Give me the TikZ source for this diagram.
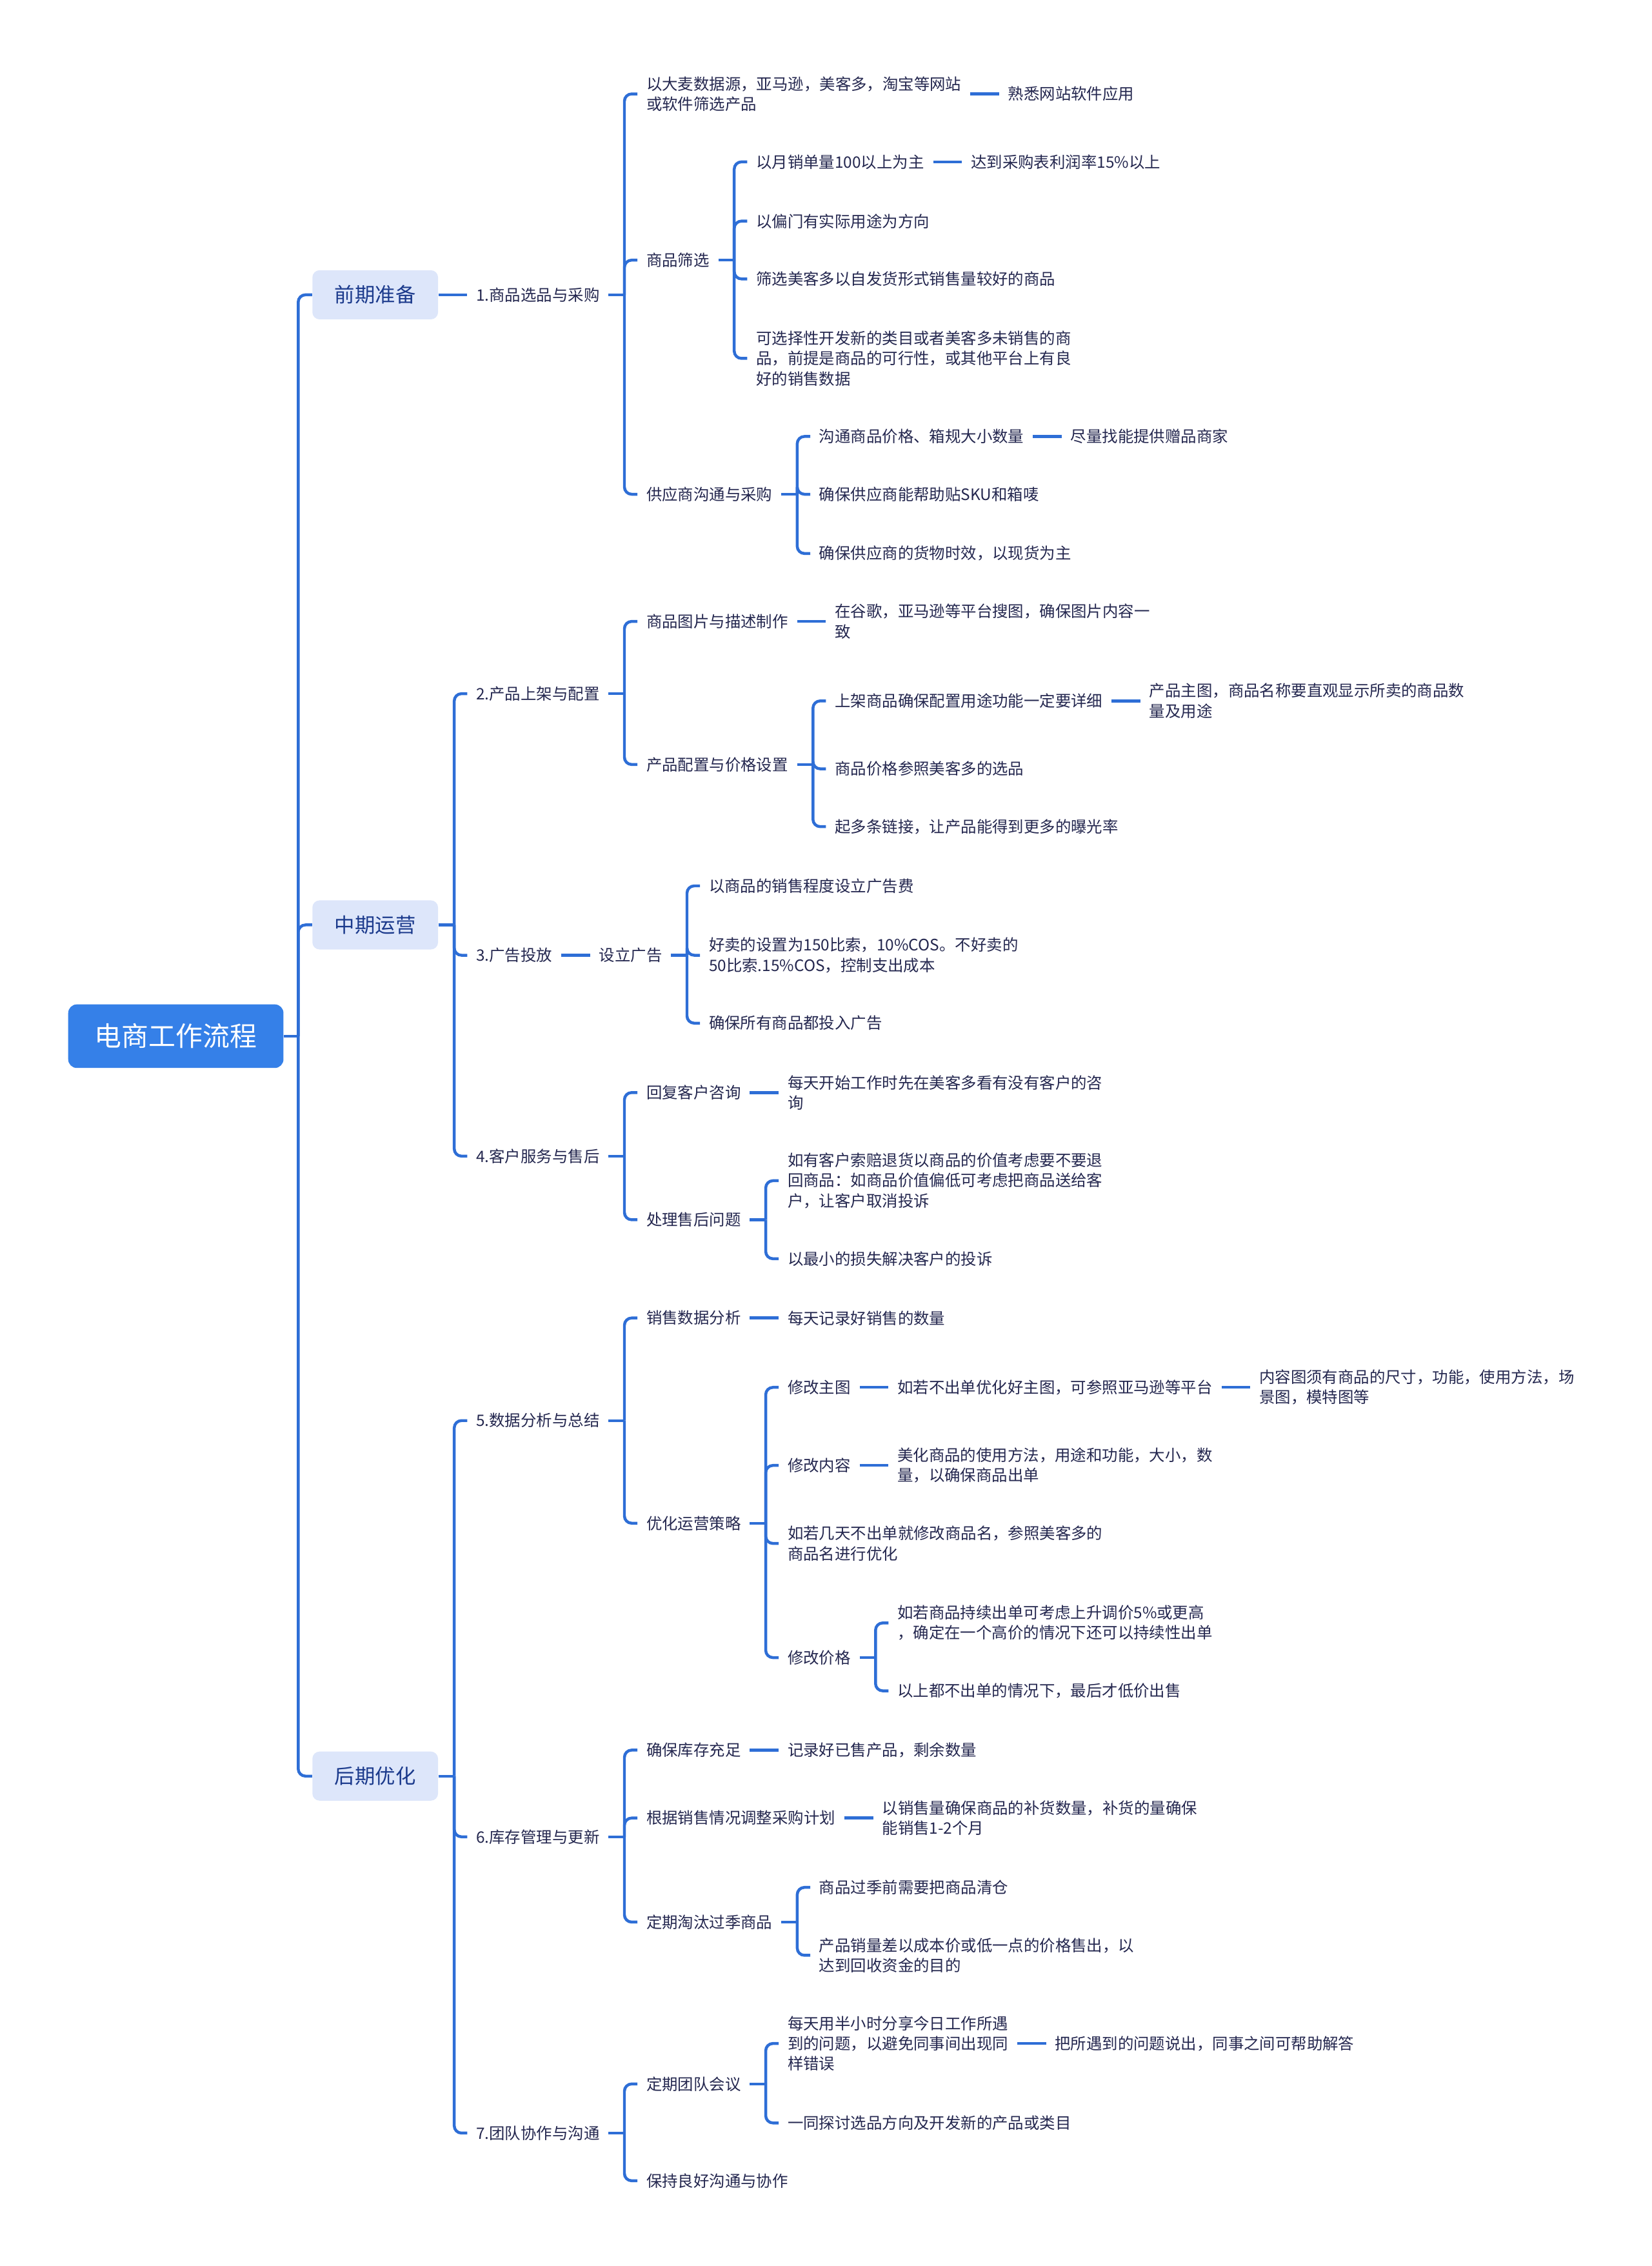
\documentclass[tikz,border=0pt]{standalone}
\usepackage{fontspec}
\setmainfont{Noto Sans CJK SC}
\usepackage{xcolor}
\usepackage{tikz}
\usetikzlibrary{positioning}

\definecolor{rootblue}{HTML}{3580E8}
\definecolor{topicfill}{HTML}{DDE6FA}
\definecolor{topicink}{HTML}{1B3A8C}
\definecolor{leafink}{HTML}{24274F}
\definecolor{lineblue}{HTML}{2E6ED6}

\begin{document}
\begin{tikzpicture}[
  x=1pt, y=-1pt,
  node distance=20pt,
  root/.style={fill=rootblue, text=white, rounded corners=6pt, minimum width=149pt, minimum height=44pt, anchor=west, font=\fontsize{18.7pt}{22pt}\selectfont},
  topic/.style={fill=topicfill, text=topicink, rounded corners=5pt, minimum width=87pt, minimum height=34pt, anchor=west, font=\fontsize{14pt}{17pt}\selectfont},
  leaf/.style={text=leafink, align=left, anchor=west, inner xsep=6pt, inner ysep=2pt, font=\fontsize{10.9pt}{14pt}\selectfont},
  link/.style={draw=lineblue, line width=2pt, rounded corners=5pt}
]
\useasboundingbox (0,0) rectangle (1143,1568);

\node[root] (root) at (47,717) {电商工作流程};
\node[topic] (t1) at (216,204) {前期准备};
\node[topic] (t2) at (216,640) {中期运营};
\node[topic] (t3) at (216,1229) {后期优化};

\node[leaf, right=of t1] (s1) {1.商品选品与采购};
\node[leaf] (s2) at ([xshift=20pt]t2.east |- 0,480) {2.产品上架与配置};
\node[leaf] (s3) at ([xshift=20pt]t2.east |- 0,661) {3.广告投放};
\node[leaf] (s4) at ([xshift=20pt]t2.east |- 0,800) {4.客户服务与售后};
\node[leaf] (s5) at ([xshift=20pt]t3.east |- 0,983) {5.数据分析与总结};
\node[leaf] (s6) at ([xshift=20pt]t3.east |- 0,1271) {6.库存管理与更新};
\node[leaf] (s7) at ([xshift=20pt]t3.east |- 0,1476) {7.团队协作与沟通};

% 1.商品选品与采购
\node[leaf] (a1) at ([xshift=20pt]s1.east |- 0,65) {以大麦数据源，亚马逊，美客多，淘宝等网站\\或软件筛选产品};
\node[leaf, right=of a1] (a1x) {熟悉网站软件应用};
\node[leaf] (a2) at ([xshift=20pt]s1.east |- 0,180) {商品筛选};
\node[leaf] (a21) at ([xshift=20pt]a2.east |- 0,112) {以月销单量100以上为主};
\node[leaf, right=of a21] (a21x) {达到采购表利润率15\%以上};
\node[leaf] (a22) at ([xshift=20pt]a2.east |- 0,153) {以偏门有实际用途为方向};
\node[leaf] (a23) at ([xshift=20pt]a2.east |- 0,193) {筛选美客多以自发货形式销售量较好的商品};
\node[leaf] (a24) at ([xshift=20pt]a2.east |- 0,248) {可选择性开发新的类目或者美客多未销售的商\\品，前提是商品的可行性，或其他平台上有良\\好的销售数据};
\node[leaf] (a3) at ([xshift=20pt]s1.east |- 0,342) {供应商沟通与采购};
\node[leaf] (a31) at ([xshift=20pt]a3.east |- 0,302) {沟通商品价格、箱规大小数量};
\node[leaf, right=of a31] (a31x) {尽量找能提供赠品商家};
\node[leaf] (a32) at ([xshift=20pt]a3.east |- 0,342) {确保供应商能帮助贴SKU和箱唛};
\node[leaf] (a33) at ([xshift=20pt]a3.east |- 0,383) {确保供应商的货物时效，以现货为主};

% 2.产品上架与配置
\node[leaf] (b1) at ([xshift=20pt]s2.east |- 0,430) {商品图片与描述制作};
\node[leaf, right=of b1] (b1x) {在谷歌，亚马逊等平台搜图，确保图片内容一\\致};
\node[leaf] (b2) at ([xshift=20pt]s2.east |- 0,529) {产品配置与价格设置};
\node[leaf] (b21) at ([xshift=20pt]b2.east |- 0,485) {上架商品确保配置用途功能一定要详细};
\node[leaf, right=of b21] (b21x) {产品主图，商品名称要直观显示所卖的商品数\\量及用途};
\node[leaf] (b22) at ([xshift=20pt]b2.east |- 0,532) {商品价格参照美客多的选品};
\node[leaf] (b23) at ([xshift=20pt]b2.east |- 0,572) {起多条链接，让产品能得到更多的曝光率};

% 3.广告投放
\node[leaf, right=of s3] (c1) {设立广告};
\node[leaf] (c11) at ([xshift=20pt]c1.east |- 0,613) {以商品的销售程度设立广告费};
\node[leaf] (c12) at ([xshift=20pt]c1.east |- 0,661) {好卖的设置为150比索，10\%COS。不好卖的\\50比索.15\%COS，控制支出成本};
\node[leaf] (c13) at ([xshift=20pt]c1.east |- 0,708) {确保所有商品都投入广告};

% 4.客户服务与售后
\node[leaf] (d1) at ([xshift=20pt]s4.east |- 0,756) {回复客户咨询};
\node[leaf, right=of d1] (d1x) {每天开始工作时先在美客多看有没有客户的咨\\询};
\node[leaf] (d2) at ([xshift=20pt]s4.east |- 0,844) {处理售后问题};
\node[leaf] (d21) at ([xshift=20pt]d2.east |- 0,817) {如有客户索赔退货以商品的价值考虑要不要退\\回商品：如商品价值偏低可考虑把商品送给客\\户，让客户取消投诉};
\node[leaf] (d22) at ([xshift=20pt]d2.east |- 0,871) {以最小的损失解决客户的投诉};

% 5.数据分析与总结
\node[leaf] (e1) at ([xshift=20pt]s5.east |- 0,912) {销售数据分析};
\node[leaf, right=of e1] (e1x) {每天记录好销售的数量};
\node[leaf] (e2) at ([xshift=20pt]s5.east |- 0,1054) {优化运营策略};
\node[leaf] (e21) at ([xshift=20pt]e2.east |- 0,960) {修改主图};
\node[leaf, right=of e21] (e21x) {如若不出单优化好主图，可参照亚马逊等平台};
\node[leaf, right=of e21x] (e21y) {内容图须有商品的尺寸，功能，使用方法，场\\景图，模特图等};
\node[leaf] (e22) at ([xshift=20pt]e2.east |- 0,1014) {修改内容};
\node[leaf, right=of e22] (e22x) {美化商品的使用方法，用途和功能，大小，数\\量，以确保商品出单};
\node[leaf] (e23) at ([xshift=20pt]e2.east |- 0,1068) {如若几天不出单就修改商品名，参照美客多的\\商品名进行优化};
\node[leaf] (e24) at ([xshift=20pt]e2.east |- 0,1147) {修改价格};
\node[leaf] (e241) at ([xshift=20pt]e24.east |- 0,1123) {如若商品持续出单可考虑上升调价5\%或更高\\，确定在一个高价的情况下还可以持续性出单};
\node[leaf] (e242) at ([xshift=20pt]e24.east |- 0,1170) {以上都不出单的情况下，最后才低价出售};

% 6.库存管理与更新
\node[leaf] (f1) at ([xshift=20pt]s6.east |- 0,1211) {确保库存充足};
\node[leaf, right=of f1] (f1x) {记录好已售产品，剩余数量};
\node[leaf] (f2) at ([xshift=20pt]s6.east |- 0,1258) {根据销售情况调整采购计划};
\node[leaf, right=of f2] (f2x) {以销售量确保商品的补货数量，补货的量确保\\能销售1-2个月};
\node[leaf] (f3) at ([xshift=20pt]s6.east |- 0,1330) {定期淘汰过季商品};
\node[leaf] (f31) at ([xshift=20pt]f3.east |- 0,1306) {商品过季前需要把商品清仓};
\node[leaf] (f32) at ([xshift=20pt]f3.east |- 0,1353) {产品销量差以成本价或低一点的价格售出，以\\达到回收资金的目的};

% 7.团队协作与沟通
\node[leaf] (g1) at ([xshift=20pt]s7.east |- 0,1442) {定期团队会议};
\node[leaf] (g11) at ([xshift=20pt]g1.east |- 0,1414) {每天用半小时分享今日工作所遇\\到的问题，以避免同事间出现同\\样错误};
\node[leaf, right=of g11] (g11x) {把所遇到的问题说出，同事之间可帮助解答};
\node[leaf] (g12) at ([xshift=20pt]g1.east |- 0,1469) {一同探讨选品方向及开发新的产品或类目};
\node[leaf] (g2) at ([xshift=20pt]s7.east |- 0,1509) {保持良好沟通与协作};

% connectors
\draw[link] (root.east) -- ++(10pt,0);
\foreach \n in {t1,t2,t3} \draw[link] (root.east) ++(10pt,0) |- (\n.west);
\draw[link] (t1.east) -- (s1.west);
\draw[link] (t2.east) -- ++(11pt,0);
\foreach \n in {s2,s3,s4} \draw[link] (t2.east) ++(11pt,0) |- (\n.west);
\draw[link] (t3.east) -- ++(11pt,0);
\foreach \n in {s5,s6,s7} \draw[link] (t3.east) ++(11pt,0) |- (\n.west);

\draw[link] (s1.east) -- ++(11pt,0);
\foreach \n in {a1,a2,a3} \draw[link] (s1.east) ++(11pt,0) |- (\n.west);
\draw[link] (a1.east) -- (a1x.west);
\draw[link] (a2.east) -- ++(11pt,0);
\foreach \n in {a21,a22,a23,a24} \draw[link] (a2.east) ++(11pt,0) |- (\n.west);
\draw[link] (a21.east) -- (a21x.west);
\draw[link] (a3.east) -- ++(11pt,0);
\foreach \n in {a31,a32,a33} \draw[link] (a3.east) ++(11pt,0) |- (\n.west);
\draw[link] (a31.east) -- (a31x.west);

\draw[link] (s2.east) -- ++(11pt,0);
\foreach \n in {b1,b2} \draw[link] (s2.east) ++(11pt,0) |- (\n.west);
\draw[link] (b1.east) -- (b1x.west);
\draw[link] (b2.east) -- ++(11pt,0);
\foreach \n in {b21,b22,b23} \draw[link] (b2.east) ++(11pt,0) |- (\n.west);
\draw[link] (b21.east) -- (b21x.west);

\draw[link] (s3.east) -- (c1.west);
\draw[link] (c1.east) -- ++(11pt,0);
\foreach \n in {c11,c12,c13} \draw[link] (c1.east) ++(11pt,0) |- (\n.west);

\draw[link] (s4.east) -- ++(11pt,0);
\foreach \n in {d1,d2} \draw[link] (s4.east) ++(11pt,0) |- (\n.west);
\draw[link] (d1.east) -- (d1x.west);
\draw[link] (d2.east) -- ++(11pt,0);
\foreach \n in {d21,d22} \draw[link] (d2.east) ++(11pt,0) |- (\n.west);

\draw[link] (s5.east) -- ++(11pt,0);
\foreach \n in {e1,e2} \draw[link] (s5.east) ++(11pt,0) |- (\n.west);
\draw[link] (e1.east) -- (e1x.west);
\draw[link] (e2.east) -- ++(11pt,0);
\foreach \n in {e21,e22,e23,e24} \draw[link] (e2.east) ++(11pt,0) |- (\n.west);
\draw[link] (e21.east) -- (e21x.west);
\draw[link] (e21x.east) -- (e21y.west);
\draw[link] (e22.east) -- (e22x.west);
\draw[link] (e24.east) -- ++(11pt,0);
\foreach \n in {e241,e242} \draw[link] (e24.east) ++(11pt,0) |- (\n.west);

\draw[link] (s6.east) -- ++(11pt,0);
\foreach \n in {f1,f2,f3} \draw[link] (s6.east) ++(11pt,0) |- (\n.west);
\draw[link] (f1.east) -- (f1x.west);
\draw[link] (f2.east) -- (f2x.west);
\draw[link] (f3.east) -- ++(11pt,0);
\foreach \n in {f31,f32} \draw[link] (f3.east) ++(11pt,0) |- (\n.west);

\draw[link] (s7.east) -- ++(11pt,0);
\foreach \n in {g1,g2} \draw[link] (s7.east) ++(11pt,0) |- (\n.west);
\draw[link] (g1.east) -- ++(11pt,0);
\foreach \n in {g11,g12} \draw[link] (g1.east) ++(11pt,0) |- (\n.west);
\draw[link] (g11.east) -- (g11x.west);
\end{tikzpicture}
\end{document}
